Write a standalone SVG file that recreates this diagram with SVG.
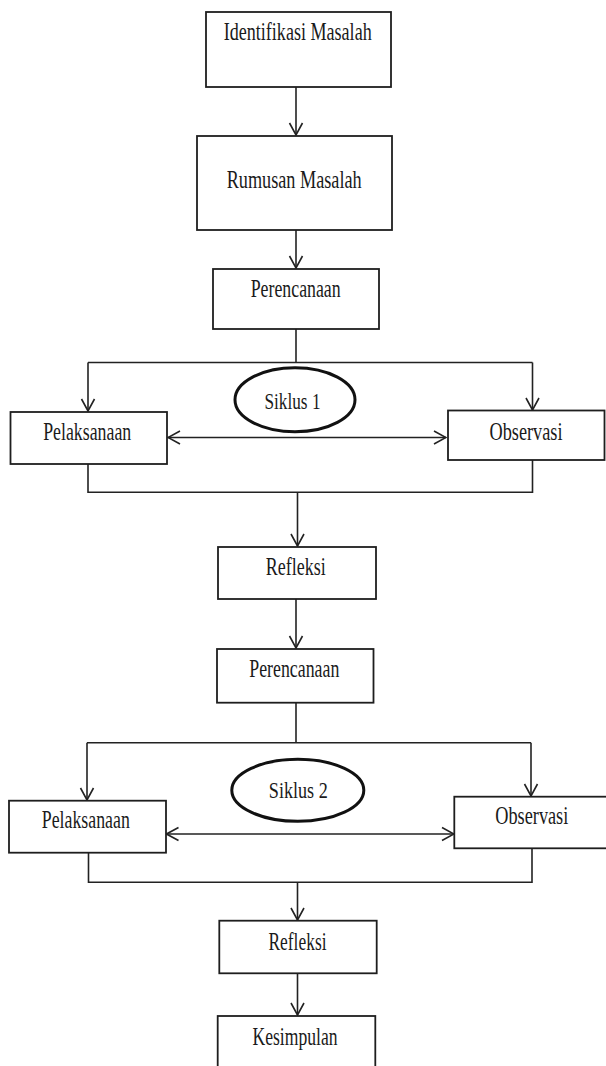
<svg xmlns="http://www.w3.org/2000/svg" width="606" height="1066" viewBox="0 0 606 1066">
<defs>
<style>
.box{fill:#fff;stroke:#1e1e1e;stroke-width:1.8}
.ell{fill:#fff;stroke:#111;stroke-width:3}
.ln{fill:none;stroke:#222;stroke-width:1.6}
.t{font-family:"Liberation Serif","Times New Roman",serif;font-size:25px;fill:#1a1a1a;text-anchor:middle}
.s{font-family:"Liberation Serif","Times New Roman",serif;font-size:24px;fill:#1a1a1a;text-anchor:middle}
</style>
<marker id="arr" markerUnits="userSpaceOnUse" markerWidth="14" markerHeight="16" viewBox="0 0 14 16" refX="13" refY="8" orient="auto-start-reverse">
<path d="M1,1.5 L13,8 L1,14.5" fill="none" stroke="#222" stroke-width="1.6"/>
</marker>
</defs>
<rect width="606" height="1066" fill="#fff"/>
<g id="connectors">
<path class="ln" d="M296,87 V135" marker-end="url(#arr)"/>
<path class="ln" d="M296,230 V268" marker-end="url(#arr)"/>
<path class="ln" d="M296,329 V362.5"/>
<path class="ln" d="M88,362.5 H532.5"/>
<path class="ln" d="M88,362.5 V411" marker-end="url(#arr)"/>
<path class="ln" d="M532.5,362.5 V410" marker-end="url(#arr)"/>
<path class="ln" d="M168,437.5 H446" marker-start="url(#arr)" marker-end="url(#arr)"/>
<path class="ln" d="M88,464 V492.3 H532.5 V460"/>
<path class="ln" d="M297.5,492.3 V546" marker-end="url(#arr)"/>
<path class="ln" d="M296,599 V648" marker-end="url(#arr)"/>
<path class="ln" d="M296,702.7 V742.7"/>
<path class="ln" d="M87,742.7 H531"/>
<path class="ln" d="M87,742.7 V800" marker-end="url(#arr)"/>
<path class="ln" d="M531,742.7 V796" marker-end="url(#arr)"/>
<path class="ln" d="M166.5,834 H454" marker-start="url(#arr)" marker-end="url(#arr)"/>
<path class="ln" d="M88.5,852.7 V882.3 H532 V848.3"/>
<path class="ln" d="M297.5,882.3 V920" marker-end="url(#arr)"/>
<path class="ln" d="M297.5,973.3 V1015" marker-end="url(#arr)"/>
</g>
<g id="identifikasi">
<rect class="box" x="206" y="12" width="185" height="75"/>
<text class="t" x="297.7" y="40" textLength="148" lengthAdjust="spacingAndGlyphs">Identifikasi Masalah</text>
</g>
<g id="rumusan">
<rect class="box" x="197" y="136" width="195" height="94"/>
<text class="t" x="294.2" y="188" textLength="135" lengthAdjust="spacingAndGlyphs">Rumusan Masalah</text>
</g>
<g id="perencanaan1">
<rect class="box" x="213" y="269" width="166" height="60"/>
<text class="t" x="295.7" y="296.7" textLength="90" lengthAdjust="spacingAndGlyphs">Perencanaan</text>
</g>
<g id="pelaksanaan1">
<rect class="box" x="10.5" y="412" width="156.5" height="52"/>
<text class="t" x="87.2" y="440" textLength="88" lengthAdjust="spacingAndGlyphs">Pelaksanaan</text>
</g>
<g id="observasi1">
<rect class="box" x="448" y="410.5" width="156.5" height="49.5"/>
<text class="t" x="526" y="440" textLength="73" lengthAdjust="spacingAndGlyphs">Observasi</text>
</g>
<g id="siklus1">
<ellipse class="ell" cx="295" cy="399.7" rx="60" ry="32"/>
<text class="s" x="292.5" y="409.3" textLength="56" lengthAdjust="spacingAndGlyphs">Siklus 1</text>
</g>
<g id="refleksi1">
<rect class="box" x="218" y="547" width="158" height="52"/>
<text class="t" x="295.8" y="575" textLength="60" lengthAdjust="spacingAndGlyphs">Refleksi</text>
</g>
<g id="perencanaan2">
<rect class="box" x="217" y="649" width="156.5" height="53.7"/>
<text class="t" x="294.3" y="676.7" textLength="90" lengthAdjust="spacingAndGlyphs">Perencanaan</text>
</g>
<g id="pelaksanaan2">
<rect class="box" x="9" y="800.7" width="157" height="52"/>
<text class="t" x="85.8" y="828.3" textLength="88" lengthAdjust="spacingAndGlyphs">Pelaksanaan</text>
</g>
<g id="observasi2">
<rect class="box" x="454.3" y="796.7" width="170" height="51.6"/>
<text class="t" x="531.8" y="824" textLength="73" lengthAdjust="spacingAndGlyphs">Observasi</text>
</g>
<g id="siklus2">
<ellipse class="ell" cx="297.8" cy="790.3" rx="66" ry="31"/>
<text class="s" x="298.3" y="797.7" textLength="59" lengthAdjust="spacingAndGlyphs">Siklus 2</text>
</g>
<g id="refleksi2">
<rect class="box" x="219.3" y="920.7" width="157.4" height="52.6"/>
<text class="t" x="297.5" y="950" textLength="58" lengthAdjust="spacingAndGlyphs">Refleksi</text>
</g>
<g id="kesimpulan">
<rect class="box" x="217.7" y="1016" width="157.6" height="70"/>
<text class="t" x="295" y="1045" textLength="85" lengthAdjust="spacingAndGlyphs">Kesimpulan</text>
</g>
</svg>
